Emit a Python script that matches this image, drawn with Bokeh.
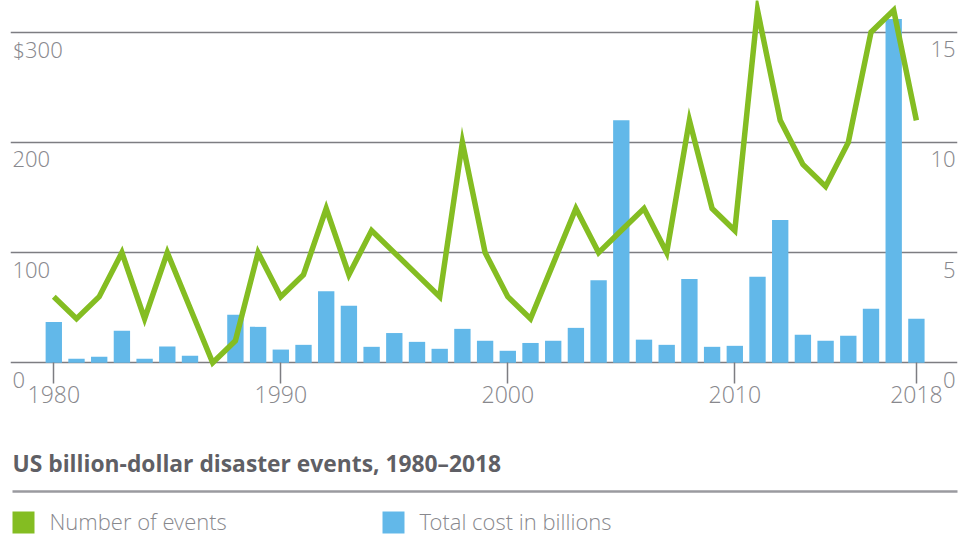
from bokeh.plotting import figure
from bokeh.models import Range1d, LinearAxis, FixedTicker, Grid
from bokeh.core.properties import value
from bokeh.embed import file_html
from bokeh.resources import INLINE

# ---------------- data ----------------
years = list(range(1980, 2019))
cost_billions = [37, 3.6, 5.5, 29, 3.6, 14.7, 6.5, 0, 43.5, 32.6,
                 12, 16.3, 65, 51.7, 14.5, 27, 19, 12.7, 30.8, 20,
                 10.9, 18, 20, 31.7, 75, 220, 21, 16.3, 76, 14.5,
                 15.4, 78, 129.6, 25.4, 20, 24.5, 49, 312, 40]
events = [3, 2, 3, 5, 2, 5, 2.5, 0, 1, 5,
          3, 4, 7, 4, 6, 5, 4, 3, 10, 5,
          3, 2, 4.5, 7, 5, 6, 7, 5, 11, 7,
          6, 16, 11, 9, 8, 10, 15, 16, 11]
x_ticks = [1980, 1990, 2000, 2010, 2018]
cost_ticks = [0, 100, 200, 300]
cost_tick_labels = ["0", "100", "200", "$300"]
event_ticks = [0, 5, 10, 15]
event_tick_labels = ["0", "5", "10", "15"]
title_text = "US billion-dollar disaster events, 1980\u20132018"
legend_labels = ["Number of events", "Total cost in billions"]

# ---------------- styling ----------------
GREEN = "#84bd22"
BLUE = "#62b8e9"
GRID = "#7d7d82"
TEXT = "#88888d"
TITLE = "#5f5f65"
LIGHT_NAME = "Open Sans Light, Open Sans"
LIGHT = value(LIGHT_NAME)

W, H = 971, 537
FL, FR = 10, 14              # frame borders inside figure
# pixel geometry of the reference
YEAR0, PX_PER_YEAR = 53.3, 22.70
BASE_Y, PX_PER_COST = 362.3, 1.102
EV_PER_COST = 5 / 100

x0 = 1980 - (YEAR0 - FL) / PX_PER_YEAR
x1 = 1980 + (W - FR - YEAR0) / PX_PER_YEAR
y_top = BASE_Y / PX_PER_COST
y_bot = -(H - BASE_Y) / PX_PER_COST


def px_x(px):
    return 1980 + (px - YEAR0) / PX_PER_YEAR


def px_y(py):
    return (BASE_Y - py) / PX_PER_COST


p = figure(width=W, height=H, output_backend="svg", toolbar_location=None,
           x_axis_type=None, y_axis_type=None,
           x_range=Range1d(x0, x1), y_range=Range1d(y_bot, y_top),
           min_border_left=FL, min_border_right=FR,
           min_border_top=0, min_border_bottom=0)
p.outline_line_color = None
p.background_fill_color = "white"
p.border_fill_color = "white"
p.extra_y_ranges = {"events": Range1d(y_bot * EV_PER_COST, y_top * EV_PER_COST)}

grid = Grid(dimension=1, ticker=FixedTicker(ticks=cost_ticks),
            grid_line_color=GRID, grid_line_width=1.5)
p.add_layout(grid, "center")

p.vbar(x=years, top=cost_billions, width=0.72, color=BLUE, line_color=None)
p.line(x=years, y=events, y_range_name="events", line_color=GREEN,
       line_width=5.5, line_join="miter")

xaxis = LinearAxis(fixed_location=0, ticker=FixedTicker(ticks=x_ticks))
xaxis.axis_line_color = None
xaxis.major_tick_in = 0
xaxis.major_tick_out = 21
xaxis.major_tick_line_color = GRID
xaxis.major_tick_line_width = 1.5
xaxis.minor_tick_line_color = None
xaxis.major_label_text_font = LIGHT_NAME
xaxis.major_label_text_font_size = "23px"
xaxis.major_label_text_color = TEXT
xaxis.major_label_standoff = 2
p.add_layout(xaxis, "below")

# y tick labels (left: cost, right: events), sitting just under gridlines
p.text(x=[px_x(12)] * len(cost_ticks), y=cost_ticks, text=cost_tick_labels,
       text_font=LIGHT, text_font_size="22px", text_color=TEXT,
       text_align="left", text_baseline="alphabetic", y_offset=17)
p.text(x=[px_x(955)] * len(event_ticks), y=event_ticks, text=event_tick_labels,
       y_range_name="events",
       text_font=LIGHT, text_font_size="22px", text_color=TEXT,
       text_align="right", text_baseline="alphabetic", y_offset=17)

# title and separator
p.text(x=[px_x(12)], y=[px_y(463)], text=[title_text],
       text_font=value("Open Sans"), text_font_style="bold",
       text_font_size="22.8px", text_color=TITLE,
       text_align="left", text_baseline="alphabetic")
p.segment(x0=[px_x(12)], y0=[px_y(491)], x1=[px_x(958)], y1=[px_y(491)],
          line_color="#9a9a9f", line_width=2.5)

# legend
p.rect(x=[px_x(23), px_x(393)], y=[px_y(522)] * 2, width=22, height=22,
       width_units="screen", height_units="screen",
       fill_color=[GREEN, BLUE], line_color=None)
p.text(x=[px_x(49), px_x(419)], y=[px_y(520)] * 2, text=legend_labels,
       text_font=LIGHT, text_font_size="22px", text_color=TEXT,
       text_align="left", text_baseline="alphabetic")

open("out.html", "w").write(file_html(p, INLINE))
